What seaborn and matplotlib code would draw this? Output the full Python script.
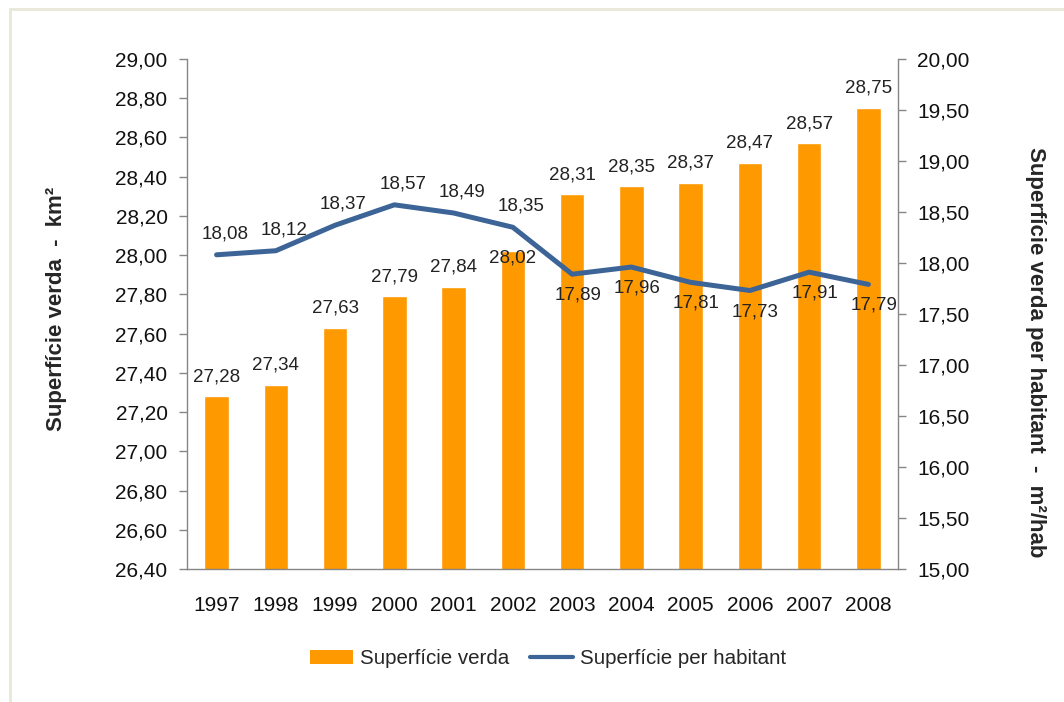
import numpy as np
import pandas as pd
import seaborn as sns
import matplotlib.pyplot as plt
from matplotlib.patches import Rectangle
from matplotlib.lines import Line2D
from matplotlib.ticker import FuncFormatter, MultipleLocator

years = ["1997", "1998", "1999", "2000", "2001", "2002",
         "2003", "2004", "2005", "2006", "2007", "2008"]
superficie_km2 = [27.28, 27.34, 27.63, 27.79, 27.84, 28.02,
                  28.31, 28.35, 28.37, 28.47, 28.57, 28.75]
per_habitant = [18.08, 18.12, 18.37, 18.57, 18.49, 18.35,
                17.89, 17.96, 17.81, 17.73, 17.91, 17.79]

ORANGE = "#FF9900"
BLUE = "#3C6496"
GREY = "#868686"

sns.set_style("white")
plt.rcParams["font.family"] = ["Liberation Sans", "DejaVu Sans"]

df = pd.DataFrame({"year": years, "km2": superficie_km2, "hab": per_habitant})
df["pos"] = np.arange(len(df))


def comma(v, _pos=None):
    return f"{v:.2f}".replace(".", ",")


fig = plt.figure(figsize=(10.64, 7.02), dpi=100)
ax = fig.add_axes([0.1757, 0.1895, 0.6683, 0.7265])

sns.barplot(data=df, x="year", y="km2", color=ORANGE, width=0.415,
            saturation=1, ax=ax)
ax.set_ylim(26.40, 29.00)
ax.yaxis.set_major_locator(MultipleLocator(0.20))
ax.yaxis.set_major_formatter(FuncFormatter(comma))
ax.set_xlim(-0.5, len(years) - 0.5)

ax2 = ax.twinx()
sns.lineplot(data=df, x="pos", y="hab", color=BLUE, linewidth=3.6, ax=ax2,
             legend=False)
ax2.set_ylim(15.00, 20.00)
ax2.yaxis.set_major_locator(MultipleLocator(0.50))
ax2.yaxis.set_major_formatter(FuncFormatter(comma))
ax2.set_xlim(-0.5, len(years) - 0.5)

# axes styling
for a in (ax, ax2):
    for s in a.spines.values():
        s.set_visible(False)
    a.set_xlabel("")
ax.spines["left"].set_visible(True)
ax.spines["bottom"].set_visible(True)
ax2.spines["right"].set_visible(True)
for s in (ax.spines["left"], ax.spines["bottom"], ax2.spines["right"]):
    s.set_color(GREY)
    s.set_linewidth(1.0)

ax.tick_params(axis="y", which="major", left=True, length=6, width=1,
               color=GREY, labelsize=15, pad=8, labelcolor="#111111")
ax.tick_params(axis="x", bottom=False, labelsize=15, pad=16,
               labelcolor="#111111")
ax2.tick_params(axis="y", right=True, length=6, width=1, color=GREY,
                labelsize=15, pad=8, labelcolor="#111111")

ax.set_ylabel("Superfície verda  -  km²", fontsize=16, fontweight="bold",
              va="center")
ax.yaxis.set_label_coords(-0.183, 0.51)
ax2.set_ylabel("Superfície verda per habitant  -  m²/hab", fontsize=16,
               fontweight="bold", rotation=-90, va="center")
ax2.yaxis.set_label_coords(1.193, 0.425)

# data labels
for i, v in enumerate(superficie_km2):
    dy = 8
    va = "bottom"
    if years[i] == "2002":
        dy, va = -5, "center"
    ax.annotate(comma(v), (i, v), xytext=(0, dy), textcoords="offset points",
                ha="center", va=va, fontsize=13.5, color="#222222")

for i, v in enumerate(per_habitant):
    if i < 6:
        ax2.annotate(comma(v), (i, v), xytext=(6, 9), textcoords="offset points",
                     ha="center", va="bottom", fontsize=13.5, color="#222222")
    else:
        ax2.annotate(comma(v), (i, v), xytext=(4, -9), textcoords="offset points",
                     ha="center", va="top", fontsize=13.5, color="#222222")

# legend
handles = [Rectangle((0, 0), 1, 1, facecolor=ORANGE, edgecolor="none"),
           Line2D([0], [0], color=BLUE, linewidth=3)]
fig.legend(handles, ["Superfície verda", "Superfície per habitant"],
           loc="center", bbox_to_anchor=(0.515, 0.062), ncol=2, frameon=False,
           fontsize=14.8, handlelength=2.1, handleheight=0.7,
           columnspacing=1.0, handletextpad=0.35)

# outer frame of the chart area
fig.patches.append(Rectangle((10 / 1064, -0.05), 1.2, (702 - 9) / 702 + 0.05,
                             transform=fig.transFigure, fill=False,
                             edgecolor="#E8E8D8", linewidth=2))

fig.savefig("out.png", dpi=100)
